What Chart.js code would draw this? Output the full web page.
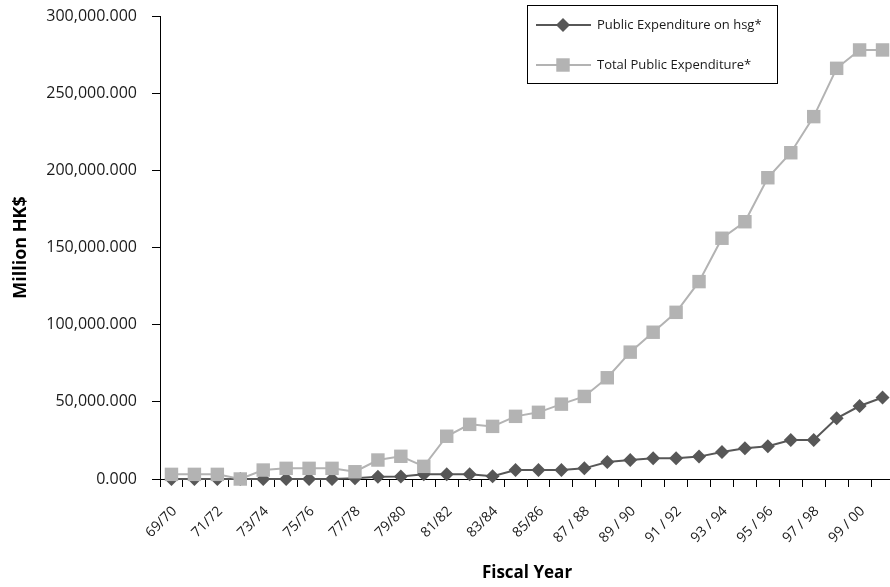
<!DOCTYPE html>
<html>
<head>
<meta charset="utf-8">
<script src="https://cdn.jsdelivr.net/npm/chart.js@4.4.1/dist/chart.umd.min.js"></script>
<style>
  html, body { margin: 0; padding: 0; background: #fff; overflow: hidden; }
  #wrap { width: 894px; height: 587px; }
</style>
</head>
<body>
<div id="wrap"><canvas id="expChart" width="894" height="587"></canvas></div>
<script>
// fiscal years, one point each; only every other one gets a label on the axis
var fiscalYears = [
  '69/70', '70/71', '71/72', '72/73', '73/74', '74/75', '75/76', '76/77',
  '77/78', '78/79', '79/80', '80/81', '81/82', '82/83', '83/84', '84/85',
  '85/86', '86/87', '87 / 88', '88 / 89', '89 / 90', '90 / 91', '91 / 92', '92 / 93',
  '93 / 94', '94 / 95', '95 / 96', '96 / 97', '97 / 98', '98 / 99', '99 / 00', '00 / 01'
];

// million HK$
var hsgSpending = [
  0, 0, 0, 0, 0, 0, 0, 0,
  500, 1500, 1700, 3000, 3000, 3000, 1800, 5800,
  5800, 5900, 6900, 11000, 12300, 13400, 13400, 14500,
  17500, 19900, 21200, 25300, 25300, 39300, 47300, 52800
];

var totalSpending = [
  3000, 3000, 3000, 0, 5800, 6900, 6900, 6900,
  4700, 12300, 14700, 8200, 27700, 35400, 34100, 40600,
  43200, 48500, 53500, 65600, 82200, 95100, 108000, 127900,
  156000, 166700, 195200, 211400, 234800, 266100, 278000, 278000
];

var yMax = 300000;
var yStep = 50000;

var darkGrey = '#575757';
var lightGrey = '#b3b3b3';

function fmtMillions(v) {
  return Number(v).toLocaleString('en-US', { minimumFractionDigits: 3, maximumFractionDigits: 3 });
}

// boxed legend sitting inside the plot, line sample with its marker
var boxLegend = {
  id: 'boxLegend',
  afterDraw: function(chart) {
    var ctx = chart.ctx;
    ctx.save();
    ctx.strokeStyle = '#000';
    ctx.lineWidth = 1;
    ctx.strokeRect(527.5, 5.5, 250, 78);

    chart.data.datasets.forEach(function(ds, i) {
      var y = 25 + i * 40;
      ctx.strokeStyle = ds.borderColor;
      ctx.lineWidth = ds.borderWidth;
      ctx.beginPath();
      ctx.moveTo(536, y);
      ctx.lineTo(591, y);
      ctx.stroke();

      ctx.fillStyle = ds.pointBackgroundColor;
      Chart.helpers.drawPoint(ctx, {
        pointStyle: ds.pointStyle,
        radius: ds.legendRadius,
        rotation: 0,
        borderWidth: 0
      }, 563, y);

      ctx.fillStyle = '#1a1a1a';
      ctx.font = '13px "Open Sans"';
      ctx.textBaseline = 'middle';
      ctx.textAlign = 'left';
      ctx.fillText(ds.label, 597, y);
    });
    ctx.restore();
  }
};

var ctx = document.getElementById('expChart');
new Chart(ctx, {
  type: 'line',
  data: {
    labels: fiscalYears,
    datasets: [{
      label: 'Public Expenditure on hsg*',
      data: hsgSpending,
      borderColor: darkGrey,
      backgroundColor: darkGrey,
      pointBackgroundColor: darkGrey,
      pointBorderWidth: 0,
      pointStyle: 'rectRot',
      pointRadius: 7,
      legendRadius: 7,
      borderWidth: 2,
      tension: 0,
      clip: false,
      order: 2
    }, {
      label: 'Total Public Expenditure*',
      data: totalSpending,
      borderColor: lightGrey,
      backgroundColor: lightGrey,
      pointBackgroundColor: lightGrey,
      pointBorderWidth: 0,
      pointStyle: 'rect',
      pointRadius: 9.5,
      legendRadius: 9.5,
      borderWidth: 2,
      tension: 0,
      clip: false,
      order: 1
    }]
  },
  options: {
    responsive: false,
    animation: false,
    events: [],
    layout: { autoPadding: false, padding: { top: 16, right: 0, bottom: 0, left: 0 } },
    plugins: {
      legend: { display: false },
      tooltip: { enabled: false }
    },
    scales: {
      x: {
        offset: true,
        grid: { offset: true, drawOnChartArea: false, drawTicks: true, tickLength: 8, color: '#000' },
        border: { color: '#000', width: 1 },
        ticks: {
          autoSkip: false,
          minRotation: 45,
          maxRotation: 45,
          padding: 16,
          labelOffset: 3,
          color: '#1a1a1a',
          font: { family: 'Open Sans', size: 14 },
          callback: function(v, i) { return i % 2 === 0 ? this.getLabelForValue(v) : ''; }
        },
        title: {
          display: true,
          text: 'Fiscal Year',
          color: '#000',
          font: { family: 'Open Sans', size: 17, weight: 'bold' },
          padding: { top: 0, bottom: 4 }
        },
        // plot runs off the right edge like the original, so drop the label padding
        afterFit: function(s) { s.height = 108; s.paddingRight = 0; }
      },
      y: {
        min: 0,
        max: yMax,
        grid: { drawOnChartArea: false, drawTicks: true, tickLength: 8, color: '#000' },
        border: { color: '#000', width: 1 },
        ticks: {
          stepSize: yStep,
          padding: 15,
          color: '#1a1a1a',
          font: { family: 'Open Sans', size: 16 },
          callback: fmtMillions
        },
        title: {
          display: true,
          text: 'Million HK$',
          color: '#000',
          font: { family: 'Open Sans', size: 18, weight: 'bold' },
          padding: { top: 10, bottom: 0 }
        },
        afterFit: function(s) { s.width = 160; s.paddingTop = 0; }
      }
    }
  },
  plugins: [boxLegend]
});
</script>
</body>
</html>
